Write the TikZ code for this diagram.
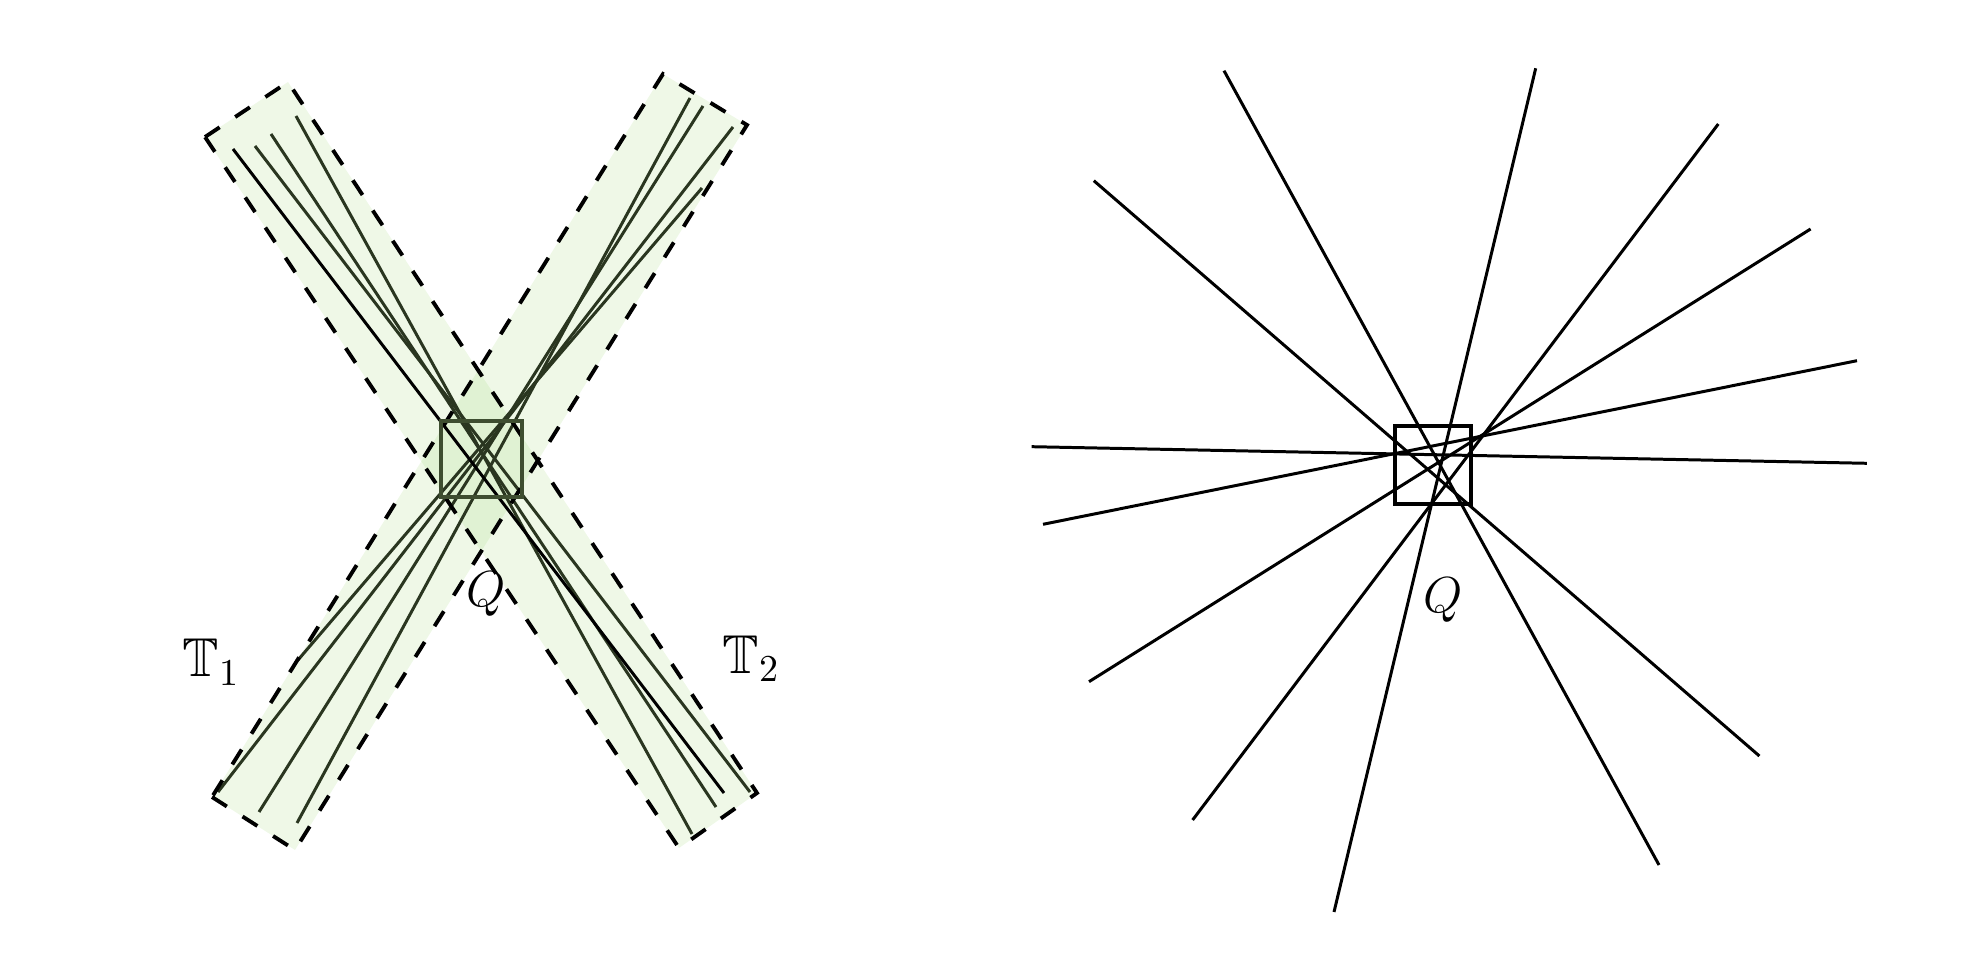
\documentclass[tikz,border=0pt]{standalone}
\usepackage{amssymb}
\begin{document}
\begin{tikzpicture}[x=0.01cm,y=-0.01cm]
\definecolor{tubefill}{RGB}{120,200,60}
\definecolor{tubeline}{RGB}{42,54,32}
\definecolor{boxline}{RGB}{62,78,48}
\tikzset{
  tube/.style={fill=tubefill, fill opacity=0.12},
  tubeedge/.style={draw=black, line width=1.1pt, dash pattern=on 5pt off 5.3pt},
  ray/.style={draw=tubeline, line width=0.85pt},
  blackray/.style={draw=black, line width=0.85pt},
  qbox/.style={draw=boxline, line width=1.1pt},
  plainray/.style={draw=black, line width=0.85pt},
  plainbox/.style={draw=black, line width=1.1pt},
  lbl/.style={inner sep=0pt, font=\Large}
}
\useasboundingbox (0,0) rectangle (1984,958);

% ---------- left figure: two tubes ----------
\coordinate (a1) at (205,137); \coordinate (a2) at (288,82);
\coordinate (a3) at (757,793); \coordinate (a4) at (679,848);
\coordinate (b1) at (212,797); \coordinate (b2) at (295,850);
\coordinate (b3) at (747,125); \coordinate (b4) at (663,74);

\fill[tube] (a1) -- (a2) -- (a3) -- (a4) -- cycle;
\fill[tube] (b1) -- (b2) -- (b3) -- (b4) -- cycle;

% lines in tube A
\draw[ray] (255,146) -- (750,792);
\draw[ray] (271,134) -- (716,807);
\draw[ray] (296,116) -- (692,834);
% lines in tube B
\draw[ray] (690,98) -- (297,823);
\draw[ray] (703,106) -- (259,812);
\draw[ray] (733,127) -- (218,792);
\draw[ray] (702,188) -- (298,660);
\draw[blackray] (233,149) -- (724,793);

\draw[tubeedge] (a1) -- (a2) -- (a3) -- (a4) -- cycle;
\draw[tubeedge] (b1) -- (b2) -- (b3) -- (b4) -- cycle;

\draw[qbox] (441,421) rectangle (522,497);

\node[lbl] (qleft) at (486,594) {$Q$};
\node[lbl, anchor=base west, scale=1.08] (t1) at (182,677) {$\mathbb{T}_1$};
\node[lbl, anchor=base west, scale=1.08] (t2) at (722,673) {$\mathbb{T}_2$};

% ---------- right figure: bush of lines ----------
\draw[plainray] (1031.6,446.7) -- (1866.8,463.3);
\draw[plainray] (1043,524.3) -- (1857,360.7);
\draw[plainray] (1089,681.7) -- (1810.6,229);
\draw[plainray] (1192.6,820) -- (1718.3,124);
\draw[plainray] (1334,912) -- (1535.7,68.3);
\draw[plainray] (1224,70.7) -- (1659,865);
\draw[plainray] (1093.8,180.7) -- (1759.4,756);

\draw[plainbox] (1395,426) rectangle (1471,504);
\node[lbl] (qright) at (1443,600) {$Q$};
\end{tikzpicture}
\end{document}
